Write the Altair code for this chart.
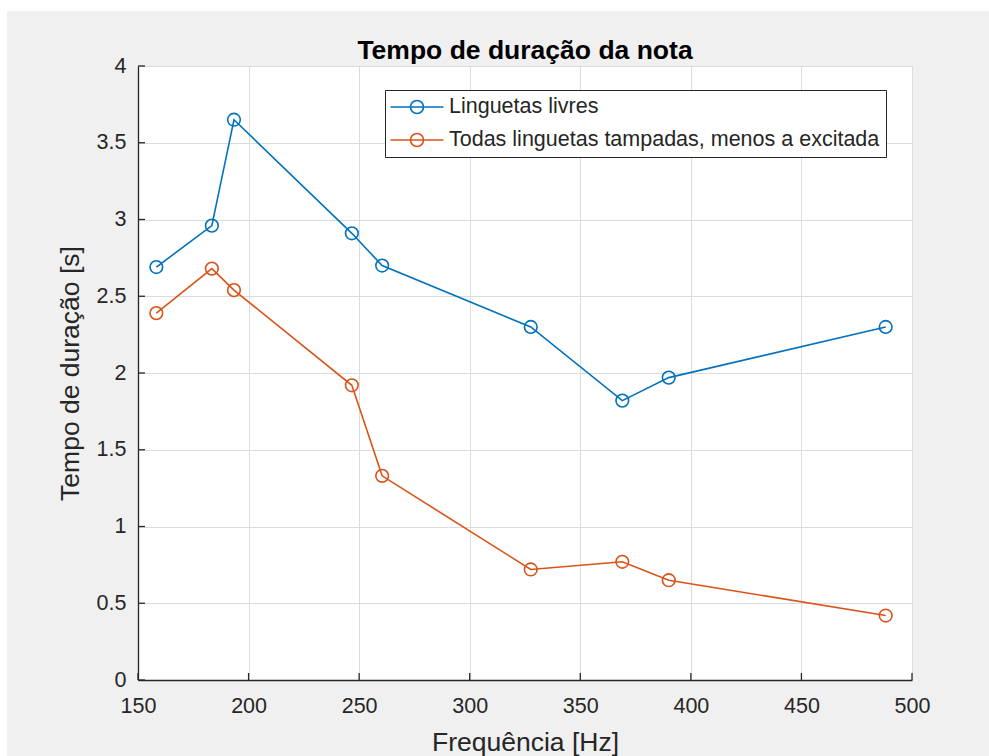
import altair as alt
import pandas as pd

# Measured note frequencies [Hz] and decay times [s]
freq_hz = [158.3, 183.4, 193.4, 246.7, 260.4, 327.6, 369.0, 390.0, 488.1]
livres = [2.69, 2.96, 3.65, 2.91, 2.70, 2.30, 1.82, 1.97, 2.30]
tampadas = [2.39, 2.68, 2.54, 1.92, 1.33, 0.72, 0.77, 0.65, 0.42]

series_names = ["Linguetas livres", "Todas linguetas tampadas, menos a excitada"]
series_colors = ["#0072BD", "#D95319"]

x_ticks = [150, 200, 250, 300, 350, 400, 450, 500]
y_ticks = [0, 0.5, 1, 1.5, 2, 2.5, 3, 3.5, 4]

FONT = "Liberation Sans"
AX = "#262626"
W, H = 774, 614
PAD = {"left": 138, "top": 66, "right": 77, "bottom": 76}

df = pd.DataFrame({
    "freq": freq_hz * 2,
    "dur": livres + tampadas,
    "serie": [series_names[0]] * len(freq_hz) + [series_names[1]] * len(freq_hz),
})

x_scale = alt.Scale(domain=[150, 500], nice=False, zero=False)
y_scale = alt.Scale(domain=[0, 4], nice=False)
color_scale = alt.Scale(domain=series_names, range=series_colors)

x_axis = alt.Axis(
    values=x_ticks, grid=True, gridColor="#dcdcdc", gridWidth=1,
    domainColor=AX, domainWidth=1.3, ticks=False,
    labelPadding=15, labelFont=FONT, labelFontSize=21.5, labelColor=AX,
    labelFlush=False, labelOverlap=False, format="d",
    title="Frequência [Hz]", titleFont=FONT, titleFontSize=26.5,
    titleFontWeight="normal", titleColor=AX, titlePadding=13,
)
y_axis = alt.Axis(
    values=y_ticks, grid=True, gridColor="#dcdcdc", gridWidth=1,
    domainColor=AX, domainWidth=1.3, ticks=False,
    labelPadding=12, labelFont=FONT, labelFontSize=21.5, labelColor=AX,
    labelFlush=False, labelOverlap=False, format="~g",
    title="Tempo de duração [s]", titleFont=FONT, titleFontSize=26.5,
    titleFontWeight="normal", titleColor=AX, titlePadding=12,
)

# legend symbol: a short line with an open circle in the middle
SYM = "M-2.65,0L2.65,0M-0.65,0A0.65,0.65,0,1,1,0.65,0A0.65,0.65,0,1,1,-0.65,0"
legend = alt.Legend(
    title=None, orient="none", legendX=247, legendY=24,
    symbolType=SYM, symbolSize=400, symbolStrokeWidth=1.6,
    symbolFillColor="transparent", symbolOffset=15, labelOffset=21,
    padding=6, rowPadding=11, strokeColor=AX, fillColor="white",
    cornerRadius=0, labelFont=FONT, labelFontSize=21.5, labelColor=AX,
    labelLimit=1000,
)

X = alt.X("freq:Q", scale=x_scale, axis=x_axis)
Y = alt.Y("dur:Q", scale=y_scale, axis=y_axis)
C = alt.Color("serie:N", scale=color_scale, legend=legend, sort=series_names)

lines = alt.Chart(df).mark_line(strokeWidth=1.6).encode(x=X, y=Y, color=C)
points = alt.Chart(df).mark_point(filled=False, size=160, strokeWidth=1.6, opacity=1).encode(
    x=X, y=Y, color=C
)

# inward tick marks
xt = pd.DataFrame({"freq": x_ticks})
yt = pd.DataFrame({"dur": y_ticks})
x_tick_marks = alt.Chart(xt).mark_rule(color=AX, strokeWidth=1.3).encode(
    x=X, y=alt.value(H), y2=alt.value(H - 7)
)
y_tick_marks = alt.Chart(yt).mark_rule(color=AX, strokeWidth=1.3).encode(
    y=Y, x=alt.value(0), x2=alt.value(7)
)

# white margin at the top and left edges of the figure
one = pd.DataFrame({"k": [0]})
frame_top = alt.Chart(one).mark_rect(color="white").encode(
    x=alt.value(-PAD["left"]), x2=alt.value(W + PAD["right"]),
    y=alt.value(-PAD["top"]), y2=alt.value(-PAD["top"] + 11),
)
frame_left = alt.Chart(one).mark_rect(color="white").encode(
    x=alt.value(-PAD["left"]), x2=alt.value(-PAD["left"] + 7),
    y=alt.value(-PAD["top"]), y2=alt.value(H + PAD["bottom"]),
)

chart = alt.layer(
    frame_top, frame_left, lines, points, x_tick_marks, y_tick_marks
).properties(
    width=W, height=H,
    autosize=alt.AutoSizeParams(type="none"),
    padding=PAD,
    background="#f0f0f0",
    title=alt.TitleParams(
        "Tempo de duração da nota", font=FONT, fontSize=26.5,
        fontWeight="bold", color="#000000", anchor="middle",
        frame="group", offset=0, dy=85, baseline="alphabetic",
    ),
).configure_view(fill="white", stroke="transparent")

chart.save("out.html", embed_options={"renderer": "svg", "actions": False})
